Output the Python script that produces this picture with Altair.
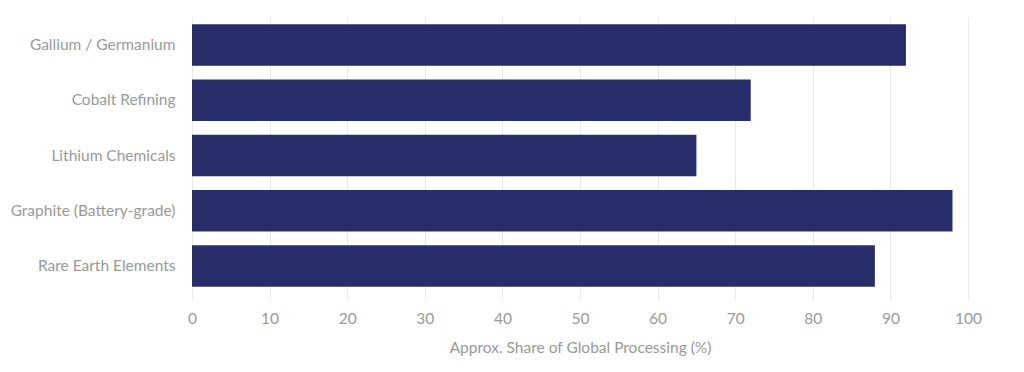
import altair as alt
import pandas as pd

categories = ["Gallium / Germanium", "Cobalt Refining", "Lithium Chemicals",
              "Graphite (Battery-grade)", "Rare Earth Elements"]
shares = [92, 72, 65, 98, 88]

df = pd.DataFrame({"category": categories, "share": shares})

FONT = "Lato"
GREY = "#999999"

chart = alt.Chart(df).mark_bar(color="#272d69").encode(
    x=alt.X("share:Q",
            scale=alt.Scale(domain=[0, 100], nice=False),
            axis=alt.Axis(title="Approx. Share of Global Processing (%)",
                          values=list(range(0, 101, 10)),
                          grid=True, gridColor="#ece9e6", domain=False,
                          ticks=True, tickColor="#ece9e6", tickSize=6,
                          labelFlush=False,
                          labelPadding=11, labelFontSize=15.5, labelColor=GREY,
                          labelFont=FONT, labelFontWeight="normal",
                          titleFont=FONT, titleFontSize=15.5,
                          titleFontWeight="normal", titleColor=GREY,
                          titlePadding=14)),
    y=alt.Y("category:N", sort=categories,
            scale=alt.Scale(paddingInner=0.25, paddingOuter=0.13),
            axis=alt.Axis(title=None, domain=False, ticks=False, grid=False,
                          labelPadding=17, labelFontSize=15.5, labelColor=GREY,
                          labelFont=FONT, labelFontWeight="normal", labelLimit=300)),
).properties(
    width=776, height=277,
    background="white",
    autosize=alt.AutoSizeParams(type="none"),
    padding={"left": 184, "top": 9, "right": 40, "bottom": 70},
).configure_view(stroke=None)

chart.save("out.html", embed_options={"renderer": "svg", "actions": False})
